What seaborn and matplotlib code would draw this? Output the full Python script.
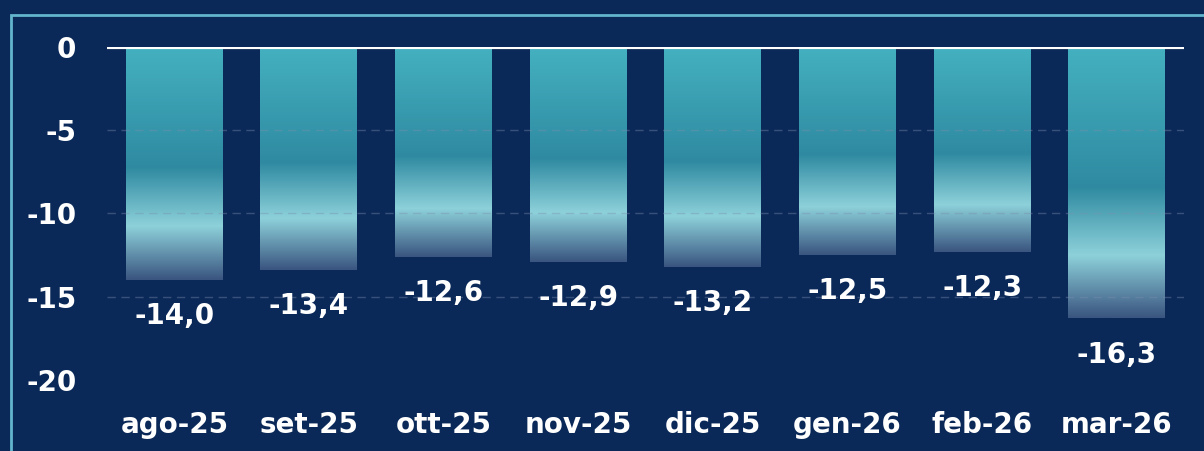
import numpy as np
import pandas as pd
import matplotlib
matplotlib.use("Agg")
import matplotlib.pyplot as plt
from matplotlib.colors import LinearSegmentedColormap
from matplotlib.patches import Rectangle
import seaborn as sns

months = ["ago-25", "set-25", "ott-25", "nov-25", "dic-25", "gen-26", "feb-26", "mar-26"]
values = [-14.0, -13.4, -12.6, -12.9, -13.2, -12.5, -12.3, -16.3]
yticks = [0, -5, -10, -15, -20]

BG = "#0b2958"
sns.set_theme(style="dark")
plt.rcParams["font.family"] = ["DejaVu Sans"]
plt.rcParams["font.weight"] = "bold"

df = pd.DataFrame({"mese": months, "valore": values})

fig = plt.figure(figsize=(12.04, 4.51), dpi=100, facecolor=BG)
ax = fig.add_axes([107 / 1204, 71 / 451, 1077 / 1204, 333 / 451])
ax.set_facecolor(BG)

sns.barplot(data=df, x="mese", y="valore", ax=ax, width=0.72, color="#3aa0b5")

# gradiente verticale dentro ogni barra
cmap = LinearSegmentedColormap.from_list(
    "barre", [(0.0, "#44b1c0"), (0.52, "#2f8aa1"), (0.77, "#8dd1da"), (1.0, "#3a5580")])
grad = np.linspace(0, 1, 256).reshape(-1, 1)
for p in ax.patches:
    x0, w, y0, h = p.get_x(), p.get_width(), p.get_y(), p.get_height()
    im = ax.imshow(grad, cmap=cmap, aspect="auto", origin="upper",
                   extent=(x0, x0 + w, y0 + h, y0), zorder=1)
    im.set_clip_path(p)
    p.set_facecolor("none")
    p.set_edgecolor("none")

ax.set_xlim(-0.5, len(months) - 0.5)
ax.set_ylim(-20, 0)

for yv in yticks[1:4]:
    ax.axhline(yv, color="#7a8fae", lw=1, ls=(0, (6, 4)), alpha=0.4, zorder=3)
ax.axhline(0, color="white", lw=3, zorder=4)

FS = 20
for i, v in enumerate(values):
    ax.annotate(f"{v:.1f}".replace(".", ","), (i, v), xytext=(0, -26), textcoords="offset points",
                ha="center", va="center", color="white", fontsize=FS, fontweight="bold")

ax.set_yticks(yticks)
ax.set_yticklabels([str(t) for t in yticks], color="white", fontsize=FS, fontweight="bold")
ax.tick_params(axis="y", length=0, pad=22)
ax.tick_params(axis="x", length=0, pad=22, labelcolor="white", labelsize=FS)
for lab in ax.get_xticklabels():
    lab.set_fontweight("bold")
ax.set_xlabel("")
ax.set_ylabel("")
ax.grid(False)
for s in ax.spines.values():
    s.set_visible(False)

# cornice della figura
fig.patches.append(Rectangle((11 / 1204, -0.1), 1.2, (451 - 15) / 451 + 0.1, transform=fig.transFigure,
                             fill=False, edgecolor="#62b5cc", lw=2, zorder=0))

fig.savefig("out.png", dpi=100, facecolor=BG)
